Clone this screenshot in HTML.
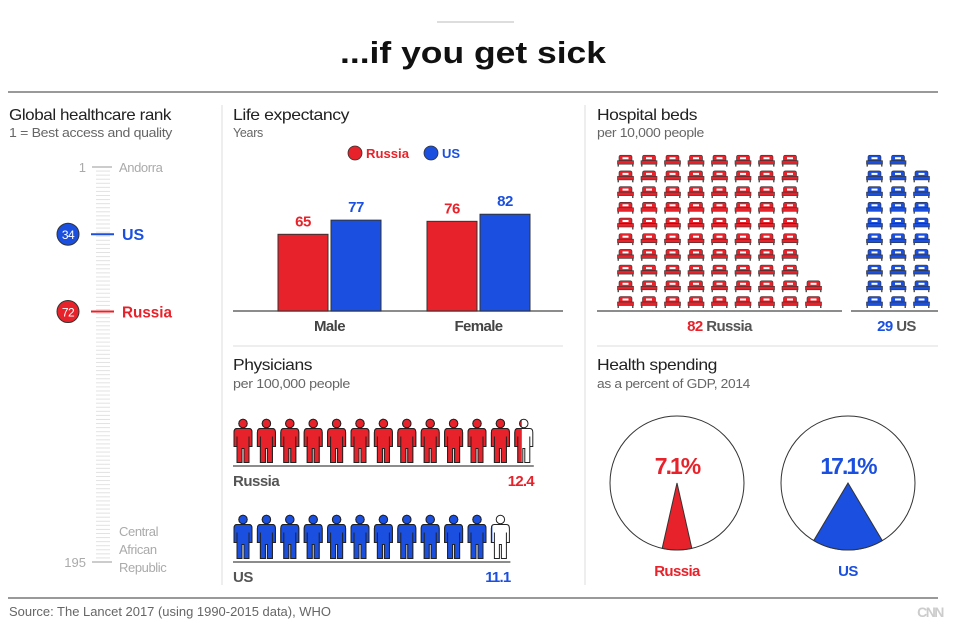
<!DOCTYPE html>
<html><head><meta charset="utf-8"><style>
html,body{margin:0;padding:0;background:#fff;}
body{width:963px;height:633px;overflow:hidden;font-family:"Liberation Sans",sans-serif;}
svg text{font-family:"Liberation Sans",sans-serif;}
.h{font-size:16px;fill:#222;letter-spacing:-0.4px}
.s{font-size:12.5px;fill:#666;letter-spacing:-0.3px}
</style></head><body>
<svg id="chart" width="963" height="633" viewBox="0 0 963 633" xmlns="http://www.w3.org/2000/svg">
<defs>
  <symbol id="person" viewBox="0 0 20 44">
    <circle cx="10" cy="5" r="4.2" stroke="#222" stroke-width="1"/>
    <path d="M4 10 H16 Q19 10 19 14 V28 H16 V18 V44 H11 V30 H9 V44 H4 V18 V28 H1 V14 Q1 10 4 10Z" stroke="#222" stroke-width="1"/>
  </symbol>
  <symbol id="bed" viewBox="0 0 17 12">
    <path d="M2 6 V2.5 Q2 0.5 4 0.5 H13 Q15 0.5 15 2.5 V6 Z" stroke="#333" stroke-width="0.6"/>
    <rect x="5.5" y="2.5" width="6" height="2" fill="#fff"/>
    <rect x="0.5" y="6" width="16" height="3.5" stroke="#333" stroke-width="0.6"/>
    <rect x="0.5" y="9.5" width="1.5" height="2.5" fill="#555"/>
    <rect x="15" y="9.5" width="1.5" height="2.5" fill="#555"/>
  </symbol>
</defs>

<line x1="437" y1="22" x2="514" y2="22" stroke="#bbb" stroke-width="1"/>
<text x="340" y="63" textLength="266" lengthAdjust="spacingAndGlyphs" font-size="31" font-weight="bold" fill="#111">...if you get sick</text>
<line x1="8" y1="92" x2="938" y2="92" stroke="#999" stroke-width="2"/>
<line x1="222" y1="105" x2="222" y2="585" stroke="#ddd" stroke-width="1"/>
<line x1="585" y1="105" x2="585" y2="585" stroke="#ddd" stroke-width="1"/>
<line x1="233" y1="346" x2="563" y2="346" stroke="#ddd" stroke-width="1"/>
<line x1="597" y1="346" x2="938" y2="346" stroke="#ddd" stroke-width="1"/>

<text x="9" y="120" class="h" textLength="162" lengthAdjust="spacingAndGlyphs">Global healthcare rank</text>
<text x="9" y="137" class="s" textLength="163" lengthAdjust="spacingAndGlyphs">1 = Best access and quality</text>
<g id="rank"></g>

<text x="233" y="120" class="h" textLength="116" lengthAdjust="spacingAndGlyphs">Life expectancy</text>
<text x="233" y="137" class="s">Years</text>
<g>
  <circle cx="355" cy="153" r="7" fill="#e8222a" stroke="#333" stroke-width="0.8"/>
  <text x="366" y="158" font-size="13" font-weight="bold" fill="#e8222a" textLength="43" lengthAdjust="spacingAndGlyphs">Russia</text>
  <circle cx="431" cy="153" r="7" fill="#1a4fe0" stroke="#333" stroke-width="0.8"/>
  <text x="442" y="158" font-size="13" font-weight="bold" fill="#1a4fe0">US</text>
</g>
<g id="bars"></g>

<text x="233" y="370" class="h" textLength="79" lengthAdjust="spacingAndGlyphs">Physicians</text>
<text x="233" y="388" class="s" textLength="117" lengthAdjust="spacingAndGlyphs">per 100,000 people</text>
<g id="phys"></g>

<text x="597" y="120" class="h" textLength="100" lengthAdjust="spacingAndGlyphs">Hospital beds</text>
<text x="597" y="137" class="s" textLength="107" lengthAdjust="spacingAndGlyphs">per 10,000 people</text>
<g id="beds"></g>

<text x="597" y="370" class="h" textLength="120" lengthAdjust="spacingAndGlyphs">Health spending</text>
<text x="597" y="388" class="s" textLength="153" lengthAdjust="spacingAndGlyphs">as a percent of GDP, 2014</text>
<g id="pies"></g>

<line x1="8" y1="598" x2="938" y2="598" stroke="#999" stroke-width="2"/>
<text x="9" y="616" font-size="12.5" fill="#666" textLength="322" lengthAdjust="spacingAndGlyphs">Source: The Lancet 2017 (using 1990-2015 data), WHO</text>
<text x="930" y="617" text-anchor="middle" font-size="14" font-weight="bold" fill="#ccc" letter-spacing="-1.5">CNN</text>
</svg>
<script>
const NS="http://www.w3.org/2000/svg";
const RED="#e8222a", BLUE="#1a4fe0";
const countries=["Russia","US"];
const countryColors=[RED,BLUE];
const rankValues=[72,34];
const rankEnds=[1,195];
const rankEndLabels=[["Andorra"],["Central","African","Republic"]];
const lifeGroups=["Male","Female"];
const lifeRussia=[65,76];
const lifeUS=[77,82];
const physRussia=12.4;
const physUS=11.1;
const bedValues=[82,29];
const spendValues=[7.1,17.1];

function el(tag,attrs,parent,text){const e=document.createElementNS(NS,tag);for(const k in attrs)e.setAttribute(k,attrs[k]);if(text!==undefined)e.textContent=text;parent.appendChild(e);return e;}
function cond(t,w){t.setAttribute('textLength',w);t.setAttribute('lengthAdjust','spacingAndGlyphs');}

// Rank scale
const rg=document.getElementById('rank');
const rankY=r=>167+(r-1)*(395/194);
for(let r=1;r<=195;r+=2){const t=el('line',{x1:96,x2:110,y1:rankY(r),y2:rankY(r),stroke:'#e2e2e2','stroke-width':1},rg);

}
rankEnds.forEach((r,i)=>{
  const y=rankY(r);
  const t=el('line',{x1:92,x2:112,y1:y,y2:y,stroke:'#bbb','stroke-width':1.5},rg);
  
  
  const n=el('text',{x:86,y:y+5,'text-anchor':'end','font-size':13,fill:'#aaa'},rg,String(r));
  
  
  const lines=rankEndLabels[i];
  lines.forEach((s,j)=>{
    const ty=i===0?y+5:(y-31+j*18+5);
    const lt=el('text',{x:119,y:ty,'font-size':13,fill:'#aaa','letter-spacing':-0.4},rg,s);
    
    });
});
rankValues.forEach((r,i)=>{
  const y=rankY(r),c=countryColors[i];
  const l=el('line',{x1:91,x2:114,y1:y,y2:y,stroke:c,'stroke-width':2},rg);
  
  
  const ci=el('circle',{cx:68,cy:y,r:11,fill:c,stroke:'#333','stroke-width':1},rg);
  
  
  const nt=el('text',{x:68,y:y+5,'text-anchor':'middle','font-size':12,fill:'#fff','letter-spacing':-0.5},rg,String(r));
  
  
  const lt=el('text',{x:122,y:y+6,'font-size':16,'font-weight':'bold',fill:c},rg,countries[i]);
  if(countries[i].length>2)cond(lt,50);
  
  
});

// Bars
const bg=document.getElementById('bars');
const base=311, yScale=v=>base-v*1.18;
const groupX=[278,427], barW=50, gap=3;
const bl=el('line',{x1:233,x2:563,y1:base,y2:base,stroke:'#666','stroke-width':1.5},bg);


lifeGroups.forEach((g,i)=>{
  [lifeRussia[i],lifeUS[i]].forEach((v,j)=>{
    const x=groupX[i]+j*(barW+gap), y=yScale(v);
    const r=el('rect',{x:x,y:y,width:barW,height:base-y,fill:countryColors[j],stroke:'#333','stroke-width':1},bg);
    
    
    const t=el('text',{x:x+barW/2,y:y-8,'text-anchor':'middle','font-size':15,'font-weight':'bold',fill:countryColors[j],'letter-spacing':-0.5},bg,String(v));
    
    
  });
  const t=el('text',{x:groupX[i]+barW+gap/2,y:331,'text-anchor':'middle','font-size':15,'font-weight':'bold',fill:'#444','letter-spacing':-0.6},bg,g);
  
  
});

// Physicians
const pg=document.getElementById('phys');
const physVals=[physRussia,physUS];
const rowTop=[418,514], step=23.4, iconW=20, iconH=45;
physVals.forEach((v,i)=>{
  const c=countryColors[i], n=Math.ceil(v);
  for(let k=0;k<n;k++){
    const x=233+k*step, frac=Math.min(1,v-k);
    const ol=el('use',{href:'#person',x:x,y:rowTop[i],width:iconW,height:iconH,fill:'#fff'},pg);
    
    
    const cid='cp'+i+'_'+k;
    const cp=el('clipPath',{id:cid,clipPathUnits:'userSpaceOnUse'},pg);
    el('rect',{x:x,y:rowTop[i]-2,width:iconW*frac,height:iconH+4},cp);
    const g=el('g',{'clip-path':'url(#'+cid+')'},pg);
    const u=el('use',{href:'#person',x:x,y:rowTop[i],width:iconW,height:iconH,fill:c},g);
    
    
  }
  const axisEnd=233+(n-1)*step+iconW;
  const ln=el('line',{x1:233,x2:axisEnd,y1:rowTop[i]+48,y2:rowTop[i]+48,stroke:'#666','stroke-width':1.5},pg);
  
  
  const lt=el('text',{x:233,y:rowTop[i]+68,'font-size':15,'font-weight':'bold',fill:'#555','letter-spacing':-0.5},pg,countries[i]);
  
  
  const vt=el('text',{x:axisEnd,y:rowTop[i]+68,'text-anchor':'end','font-size':15,'font-weight':'bold',fill:c,'letter-spacing':-0.8},pg,String(v));
  
  
});

// Beds
const bdg=document.getElementById('beds');
const bedX0=[617,866], bedStepX=23.5, bedStepY=15.7, bedBottom=296;
const bedLine=[[597,842],[851,938]];
bedValues.forEach((v,i)=>{
  const c=countryColors[i];
  for(let k=0;k<v;k++){
    const col=Math.floor(k/10), row=k%10;
    const u=el('use',{href:'#bed',x:bedX0[i]+col*bedStepX,y:bedBottom-row*bedStepY,width:17,height:12,fill:c},bdg);
    
    
  }
  const ln=el('line',{x1:bedLine[i][0],x2:bedLine[i][1],y1:311,y2:311,stroke:'#666','stroke-width':1.5},bdg);
  
  
  const t=el('text',{x:(bedLine[i][0]+bedLine[i][1])/2+(i?2:0),y:331,'text-anchor':'middle','font-size':15,'font-weight':'bold',fill:'#555','letter-spacing':-0.6},bdg);
  
  
  el('tspan',{fill:c},t,String(v)+' ');
  el('tspan',{},t,countries[i]);
});

// Pies
const pig=document.getElementById('pies');
const pieCx=[677,848], pieCy=483, pieR=67;
spendValues.forEach((v,i)=>{
  const c=countryColors[i], cx=pieCx[i];
  const ci=el('circle',{cx:cx,cy:pieCy,r:pieR,fill:'#fff',stroke:'#333','stroke-width':1},pig);
  
  
  const half=Math.PI*v/100;
  const a1=Math.PI/2-half, a2=Math.PI/2+half;
  const x1=cx+pieR*Math.cos(a1), y1=pieCy+pieR*Math.sin(a1);
  const x2=cx+pieR*Math.cos(a2), y2=pieCy+pieR*Math.sin(a2);
  const p=el('path',{d:`M${cx} ${pieCy} L${x1} ${y1} A${pieR} ${pieR} 0 0 1 ${x2} ${y2} Z`,fill:c,stroke:'#333','stroke-width':1},pig);
  
  
  const t=el('text',{x:cx,y:pieCy-9,'text-anchor':'middle','font-size':23,'font-weight':'bold',fill:c,'letter-spacing':-2},pig,v+'%');
  
  
  const l=el('text',{x:cx,y:576,'text-anchor':'middle','font-size':15,'font-weight':'bold',fill:c,'letter-spacing':-0.6},pig,countries[i]);
  
  
});
</script>
</body></html>
